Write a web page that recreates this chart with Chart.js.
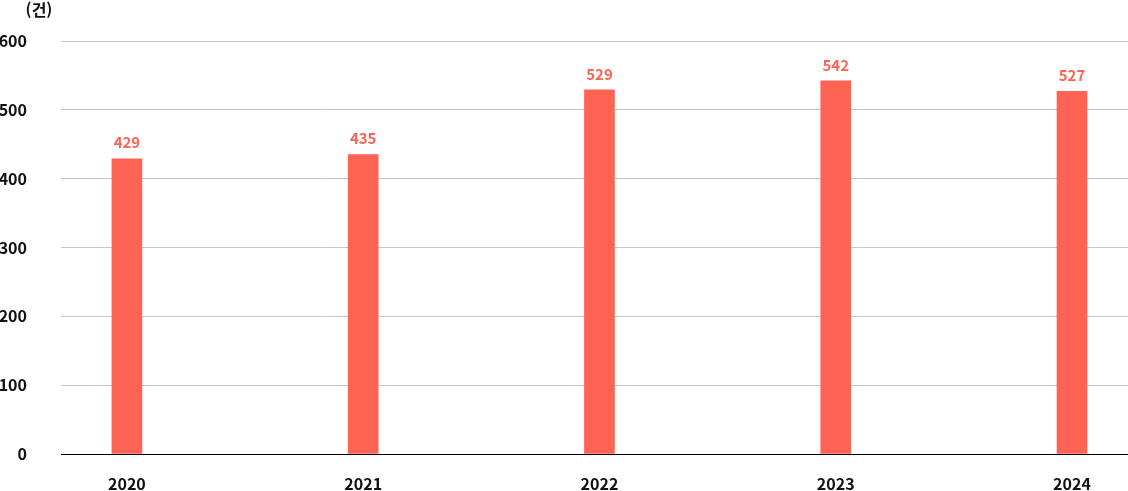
<!DOCTYPE html>
<html lang="ko">
<head>
<meta charset="utf-8">
<title>연도별 건수</title>
<script src="https://cdn.jsdelivr.net/npm/chart.js@4.4.1/dist/chart.umd.min.js"></script>
<style>
    html, body { margin: 0; padding: 0; background: #fff; }
    #wrap { width: 1128px; height: 491px; position: relative; }
</style>
</head>
<body>
<div id="wrap">
    <canvas id="countChart"></canvas>
</div>
<script>
// data
var years = ['2020', '2021', '2022', '2023', '2024'];
var counts = [429, 435, 529, 542, 527];
var yTicks = [0, 100, 200, 300, 400, 500, 600];
var unitLabel = '(건)';

var barColor = '#ff6354';
var fontFamily = '"Noto Sans CJK KR", "Noto Sans", sans-serif';

// value labels above each bar + unit text in the corner
var labelPlugin = {
    id: 'labelPlugin',
    afterDatasetsDraw: function (chart) {
        var ctx = chart.ctx;
        var meta = chart.getDatasetMeta(0);
        ctx.save();
        ctx.font = 'bold 15px ' + fontFamily;
        ctx.fillStyle = barColor;
        ctx.textAlign = 'center';
        ctx.textBaseline = 'middle';
        meta.data.forEach(function (bar, i) {
            ctx.fillText(String(counts[i]), bar.x, bar.y - 16);
        });
        ctx.font = 'bold 16px ' + fontFamily;
        ctx.fillStyle = '#111';
        ctx.fillText(unitLabel, 39, 10);
        ctx.restore();
    }
};

var ctx = document.getElementById('countChart').getContext('2d');
new Chart(ctx, {
    type: 'bar',
    data: {
        datasets: [{
            label: '건수',
            data: counts.map(function (v, i) { return { x: i, y: v }; }),
            backgroundColor: barColor,
            borderWidth: 0,
            barThickness: 30
        }]
    },
    options: {
        responsive: true,
        maintainAspectRatio: false,
        animation: false,
        layout: {
            padding: { top: 41, right: 0, bottom: 0, left: 0 }
        },
        plugins: {
            legend: { display: false },
            tooltip: { enabled: false }
        },
        scales: {
            x: {
                type: 'linear',
                offset: false,
                min: -0.279,
                max: 4.237,
                // fixed box so the plot bottom lands where the reference has it
                afterFit: function (axis) {
                    axis.height = 37;
                    axis.paddingLeft = 0;
                    axis.paddingRight = 0;
                },
                grid: { display: false, drawTicks: false },
                border: { display: true, color: '#000', width: 1 },
                ticks: {
                    stepSize: 1,
                    includeBounds: false,
                    autoSkip: false,
                    maxRotation: 0,
                    padding: 20,
                    color: '#111',
                    font: { family: fontFamily, size: 16, weight: 'bold' },
                    callback: function (v) { return years[v] !== undefined ? years[v] : ''; }
                }
            },
            y: {
                min: 0,
                max: 600,
                afterBuildTicks: function (axis) {
                    axis.ticks = yTicks.map(function (v) { return { value: v }; });
                },
                afterFit: function (axis) {
                    axis.width = 61;
                    axis.paddingTop = 0;
                    axis.paddingBottom = 0;
                },
                grid: { color: '#c8c8c8', lineWidth: 1, drawTicks: false },
                border: { display: false },
                ticks: {
                    padding: 34,
                    color: '#111',
                    font: { family: fontFamily, size: 16, weight: 'bold' }
                }
            }
        }
    },
    plugins: [labelPlugin]
});
</script>
</body>
</html>
